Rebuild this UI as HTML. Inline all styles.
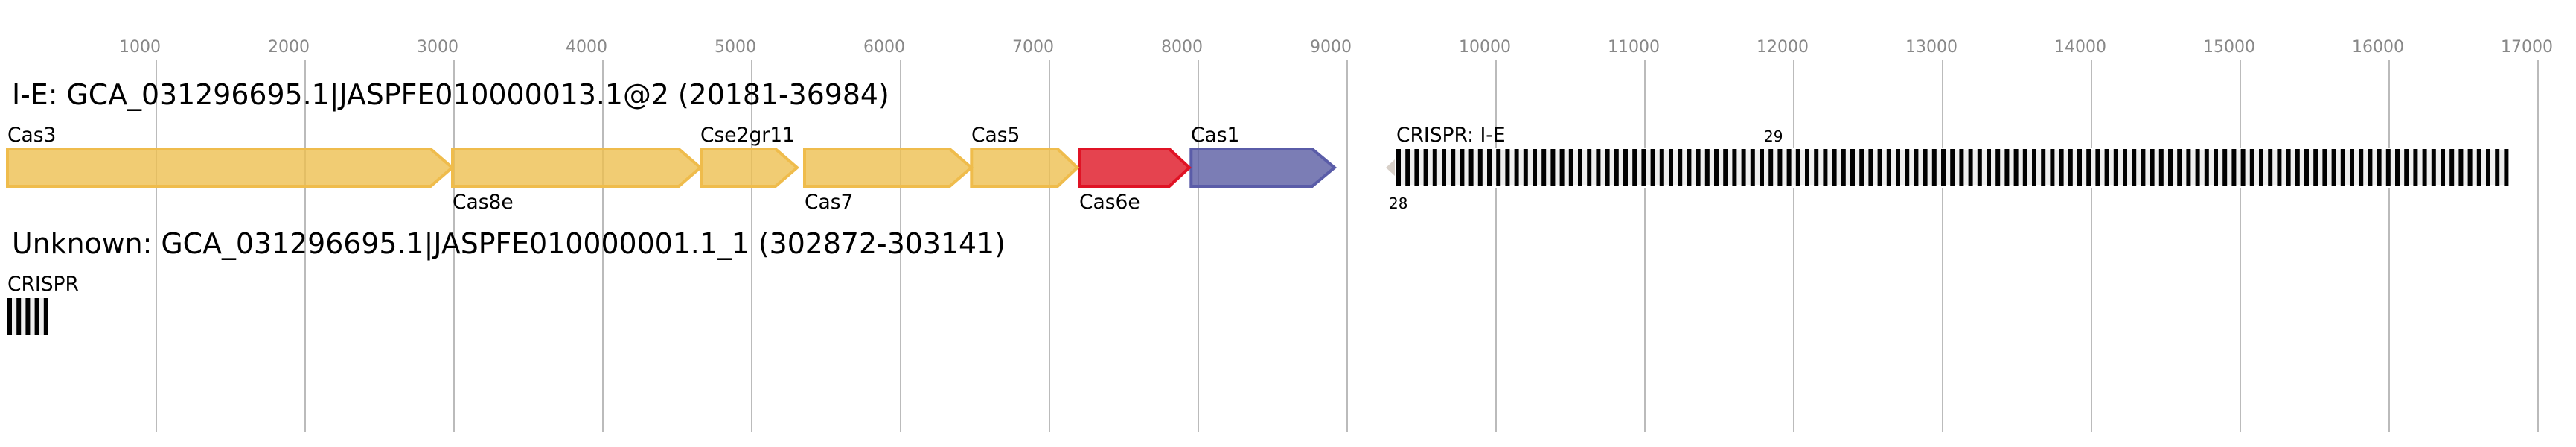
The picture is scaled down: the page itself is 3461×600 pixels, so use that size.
<!DOCTYPE html>
<html lang="en">
<head>
<meta charset="utf-8">
<title>CRISPR-Cas loci</title>
<style>
html,body{margin:0;padding:0;background:#fff;width:3461px;height:600px;overflow:hidden}
svg{display:block}
text{font-family:"DejaVu Sans","Liberation Sans",sans-serif}
.t{font-size:22px;fill:#888}
.h{font-size:37.85px;fill:#000}
.l{font-size:26.5px;fill:#000}
.n{font-size:20px;fill:#000}
.g{stroke-width:4;fill-opacity:.8}
.y{fill:#eebf50;stroke:#efbc4c}
.r{fill:#de1423;stroke:#e01325}
.b{fill:#5a5da2;stroke:#5a5ca8}
</style>
</head>
<body>
<svg width="3461" height="600" viewBox="0 0 3461 600" xmlns="http://www.w3.org/2000/svg">
<g stroke="#bbb" stroke-width="2">
<line x1="210" x2="210" y1="80" y2="580"/>
<line x1="410" x2="410" y1="80" y2="580"/>
<line x1="610" x2="610" y1="80" y2="580"/>
<line x1="810" x2="810" y1="80" y2="580"/>
<line x1="1010" x2="1010" y1="80" y2="580"/>
<line x1="1210" x2="1210" y1="80" y2="580"/>
<line x1="1410" x2="1410" y1="80" y2="580"/>
<line x1="1610" x2="1610" y1="80" y2="580"/>
<line x1="1810" x2="1810" y1="80" y2="580"/>
<line x1="2010" x2="2010" y1="80" y2="580"/>
<line x1="2210" x2="2210" y1="80" y2="580"/>
<line x1="2410" x2="2410" y1="80" y2="580"/>
<line x1="2610" x2="2610" y1="80" y2="580"/>
<line x1="2810" x2="2810" y1="80" y2="580"/>
<line x1="3010" x2="3010" y1="80" y2="580"/>
<line x1="3210" x2="3210" y1="80" y2="580"/>
<line x1="3410" x2="3410" y1="80" y2="580"/>
</g>
<g class="t">
<text x="160" y="70">1000</text>
<text x="360" y="70">2000</text>
<text x="560" y="70">3000</text>
<text x="760" y="70">4000</text>
<text x="960" y="70">5000</text>
<text x="1160" y="70">6000</text>
<text x="1360" y="70">7000</text>
<text x="1560" y="70">8000</text>
<text x="1760" y="70">9000</text>
<text x="1960" y="70">10000</text>
<text x="2160" y="70">11000</text>
<text x="2360" y="70">12000</text>
<text x="2560" y="70">13000</text>
<text x="2760" y="70">14000</text>
<text x="2960" y="70">15000</text>
<text x="3160" y="70">16000</text>
<text x="3360" y="70">17000</text>
</g>
<text class="h" x="16" y="140">I-E: GCA_031296695.1|JASPFE010000013.1@2 (20181-36984)</text>
<text class="h" x="16" y="340">Unknown: GCA_031296695.1|JASPFE010000001.1_1 (302872-303141)</text>

<polygon class="g b" points="1600.3,200 1763,200 1793,225 1763,250 1600.3,250"/>
<polygon class="g r" points="1451,200 1571,200 1598,225 1571,250 1451,250"/>
<polygon class="g y" points="1305.3,200 1421,200 1447.5,225 1421,250 1305.3,250"/>
<polygon class="g y" points="1081,200 1276,200 1305,225 1276,250 1081,250"/>
<polygon class="g y" points="942,200 1042,200 1071,225 1042,250 942,250"/>
<polygon class="g y" points="608,200 912,200 941,225 912,250 608,250"/>
<polygon class="g y" points="10,200 578.6,200 607.5,225 578.6,250 10,250"/>

<text class="l" x="10" y="190">Cas3</text>
<text class="l" x="608" y="280">Cas8e</text>
<text class="l" x="941" y="190">Cse2gr11</text>
<text class="l" x="1081" y="280">Cas7</text>
<text class="l" x="1305" y="190">Cas5</text>
<text class="l" x="1450" y="280">Cas6e</text>
<text class="l" x="1600" y="190">Cas1</text>
<text class="l" x="1876" y="190">CRISPR: I-E</text>

<polygon points="1862,225 1874,214 1874,236" fill="#d8d0c8"/>
<rect x="1876" y="200" width="1495" height="50" fill="#eee" stroke="#fff" stroke-width="4"/>
<line x1="1876" x2="3371" y1="225" y2="225" stroke="#000" stroke-width="50" stroke-dasharray="6 6.2"/>
<text class="n" x="1866" y="280">28</text>
<text class="n" x="2370" y="190">29</text>

<text class="l" x="10" y="390">CRISPR</text>
<rect x="10" y="400" width="54" height="50" fill="#eee"/>
<line x1="10" x2="64.8" y1="425" y2="425" stroke="#000" stroke-width="50" stroke-dasharray="6 6.2"/>
</svg>
</body>
</html>
